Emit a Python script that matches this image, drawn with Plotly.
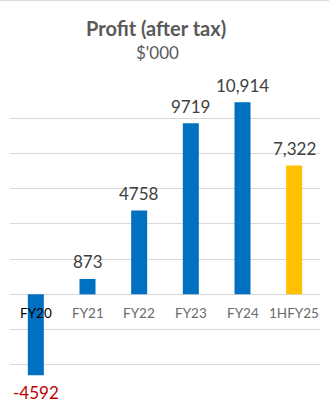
import plotly.graph_objects as go

# Profit after tax by financial year, in $'000
categories = ["FY20", "FY21", "FY22", "FY23", "FY24", "1HFY25"]
profit = [-4592, 873, 4758, 9719, 10914, 7322]
thousands_sep = [False, False, False, False, True, True]
bar_colors = ["#0070C0", "#0070C0", "#0070C0", "#0070C0", "#0070C0", "#FFC000"]
label_colors = ["#000000", "#6b6b6b", "#6b6b6b", "#6b6b6b", "#6b6b6b", "#6b6b6b"]

W, H = 329, 408
FONT = "Lato"

fig = go.Figure(
    go.Bar(
        x=categories,
        y=profit,
        marker=dict(color=bar_colors, line=dict(width=0)),
        width=0.31,
        hoverinfo="skip",
    )
)

annotations = []
# value labels above positive bars, below negative ones
for cat, v, sep in zip(categories, profit, thousands_sep):
    txt = f"{v:,}" if sep else f"{v}"
    annotations.append(dict(
        x=cat, y=v, xref="x", yref="y", text=txt, showarrow=False,
        yanchor="middle", yshift=17 if v >= 0 else -17,
        font=dict(family=FONT, size=17, color="#C00000" if v < 0 else "#404040"),
    ))
# category labels sit just under the zero line
for cat, col in zip(categories, label_colors):
    annotations.append(dict(
        x=cat, y=0, xref="x", yref="y", text=cat, showarrow=False,
        yanchor="middle", yshift=-19,
        font=dict(family=FONT, size=13.5, color=col),
    ))
# title block
annotations.append(dict(
    x=156 / W, y=1 - 28 / H, xref="paper", yref="paper", text="<b>Profit (after tax)</b>",
    showarrow=False, xanchor="center", yanchor="middle",
    font=dict(family=FONT, size=20, color="#595959"),
))
annotations.append(dict(
    x=157.5 / W, y=1 - 53 / H, xref="paper", yref="paper", text="$'000",
    showarrow=False, xanchor="center", yanchor="middle",
    font=dict(family=FONT, size=17, color="#595959"),
))

fig.update_layout(
    width=W, height=H,
    margin=dict(l=0, r=0, t=0, b=0),
    paper_bgcolor="white", plot_bgcolor="white",
    showlegend=False,
    annotations=annotations,
    shapes=[dict(type="line", xref="paper", yref="paper", x0=0, x1=1,
                 y0=1 - 0.5 / H, y1=1 - 0.5 / H, line=dict(color="#D9D9D9", width=1))],
    xaxis=dict(domain=[10 / W, 320 / W], range=[-0.5, 5.5], showticklabels=False,
               showgrid=False, zeroline=False, showline=False, fixedrange=True),
    yaxis=dict(domain=[8 / H, 325 / H], range=[-6000, 12000], dtick=2000, tick0=0,
               showticklabels=False, showgrid=True, gridcolor="#D9D9D9", gridwidth=1,
               zeroline=True, zerolinecolor="#D9D9D9", zerolinewidth=1,
               showline=False, fixedrange=True),
)

fig.write_html("out.html", config={"displayModeBar": False})
